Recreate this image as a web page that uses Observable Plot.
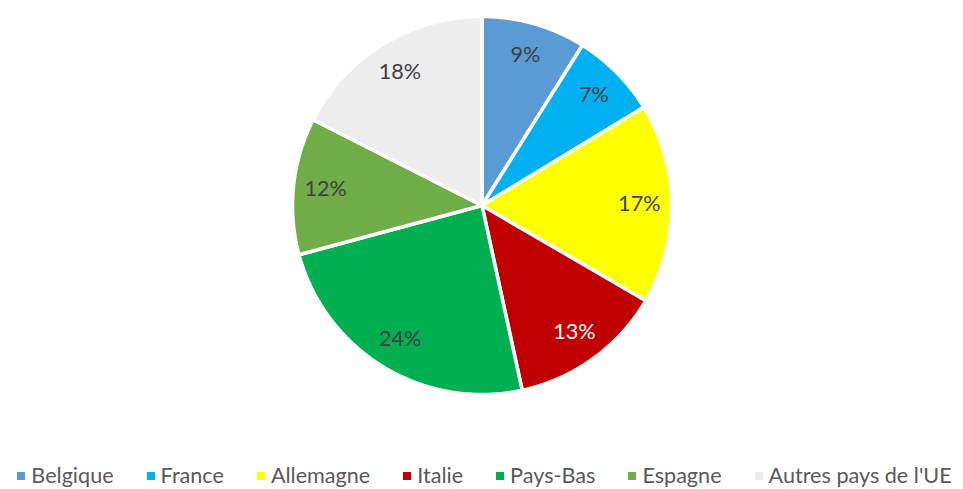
<!DOCTYPE html>
<html>
<head>
<meta charset="utf-8">
<script src="https://cdn.jsdelivr.net/npm/d3@7"></script>
<script src="https://cdn.jsdelivr.net/npm/@observablehq/plot@0.6"></script>
<style>
  html, body { margin: 0; padding: 0; background: #fff; }
  #wrap { position: relative; width: 963px; height: 489px; overflow: hidden; }
  #legend { position: absolute; left: 0; top: 463px; width: 963px; display: flex; justify-content: center; gap: 33px;
            font-family: Lato, "Open Sans", sans-serif; font-size: 21.6px; color: #595959; line-height: 24px; white-space: nowrap; padding-left: 6px; box-sizing: border-box; }
  #legend .item { display: flex; align-items: center; }
  #legend .sw { width: 8px; height: 8px; margin-right: 6px; margin-top: 2px; }
</style>
</head>
<body>
<div id="wrap">
  <div id="chart"></div>
  <div id="legend"></div>
</div>
<script>
const categories = ["Belgique", "France", "Allemagne", "Italie", "Pays-Bas", "Espagne", "Autres pays de l'UE"];
const values = [8.9, 7.4, 17.1, 13.2, 24.2, 11.7, 17.5];
const colors = ["#5B9BD5", "#00B0F0", "#FFFF00", "#C00000", "#00B050", "#70AD47", "#EDEDED"];
const labelColors = ["#404040", "#404040", "#404040", "#FFFFFF", "#404040", "#404040", "#404040"];

const total = d3.sum(values);
const pie = d3.pie().sort(null).value(d => d.value);
const arcs = pie(categories.map((c, i) => ({cat: c, value: values[i], i})));

// Build slice outlines (unit circle coordinates) from the pie angles
const points = [];
for (const a of arcs) {
  points.push({cat: a.data.cat, x: 0, y: 0});
  const n = Math.max(2, Math.ceil((a.endAngle - a.startAngle) / 0.01));
  for (let k = 0; k <= n; k++) {
    const t = a.startAngle + (a.endAngle - a.startAngle) * k / n;
    points.push({cat: a.data.cat, x: Math.sin(t), y: Math.cos(t)});
  }
}
const labelR = 0.83;
const labels = arcs.map(a => {
  const m = (a.startAngle + a.endAngle) / 2;
  return {cat: a.data.cat, x: labelR * Math.sin(m), y: labelR * Math.cos(m),
          text: Math.round(a.data.value / total * 100) + "%", color: labelColors[a.data.i]};
});

const chart = Plot.plot({
  width: 963,
  height: 410,
  marginLeft: 292,
  marginRight: 292,
  marginTop: 16,
  marginBottom: 16,
  x: {domain: [-1, 1], axis: null},
  y: {domain: [-1, 1], axis: null},
  color: {domain: categories, range: colors},
  style: {fontFamily: "Lato, 'Open Sans', sans-serif", background: "transparent"},
  marks: [
    Plot.line(points, {x: "x", y: "y", z: "cat", fill: "cat", stroke: "white", strokeWidth: 3.5,
                       strokeLinejoin: "miter", curve: "linear-closed"}),
    Plot.text(labels, {x: "x", y: "y", text: "text", fill: "color", fontSize: 21.6})
  ]
});
document.getElementById("chart").appendChild(chart);

const legend = document.getElementById("legend");
categories.forEach((c, i) => {
  const item = document.createElement("div");
  item.className = "item";
  const sw = document.createElement("span");
  sw.className = "sw";
  sw.style.background = colors[i];
  const tx = document.createElement("span");
  tx.textContent = c;
  item.appendChild(sw);
  item.appendChild(tx);
  legend.appendChild(item);
});
</script>
</body>
</html>
